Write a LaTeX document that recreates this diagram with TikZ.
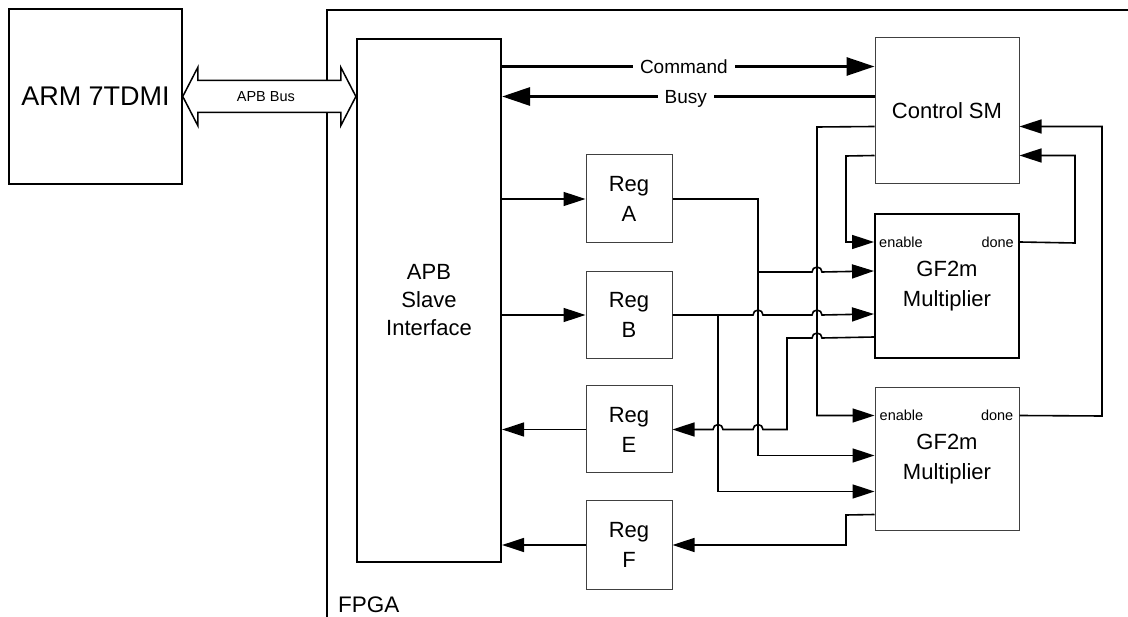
\documentclass[tikz,border=0pt]{standalone}
\usepackage{fontspec}
\setmainfont{Liberation Sans}
\usetikzlibrary{arrows.meta,calc}
\begin{document}
\begin{tikzpicture}[x=1pt,y=-1pt,
  box/.style={draw=black!75, line width=1pt, inner sep=0pt, align=center,
              font=\fontsize{22}{30}\selectfont},
  strongbox/.style={box, draw=black, line width=2pt},
  regbox/.style={box, minimum width=86pt, minimum height=87pt},
  gfbox/.style={minimum width=144pt, minimum height=144pt},
  wire/.style={line width=1.6pt, draw=black},
  arr/.style={wire, -{Triangle[length=22pt,width=14pt]}},
  bigarr/.style={line width=3pt, draw=black, -{Triangle[length=28pt,width=18pt]}},
  lbl/.style={fill=white, inner xsep=7pt, inner ysep=2pt, text depth=0pt,
              font=\fontsize{19}{22}\selectfont},
  port/.style={inner sep=0pt, font=\fontsize{14.5}{17}\selectfont},
  bus/.style={draw=black, line width=1.5pt, fill=white, line join=miter},
  frame/.style={draw=black, line width=2pt}
]
\useasboundingbox (0,0) rectangle (1128,617);

% FPGA frame
\draw[frame] (327,617) -- (327,10) -- (1128,10);
\node[anchor=base west, inner sep=0pt, font=\fontsize{22.5}{26}\selectfont] (fpga) at (338,612.3) {FPGA};

% blocks
\node[box, draw=black, line width=1.5pt, minimum width=173pt, minimum height=175pt,
      font=\fontsize{27}{32}\selectfont] (arm) at (95.5,96.5) {ARM 7TDMI};
\node[strongbox, line width=2.2pt, minimum width=144pt, minimum height=523pt,
      font=\fontsize{22}{28}\selectfont] (apb) at (429,300.5) {APB\\Slave\\Interface};
\node[box, minimum width=144pt, minimum height=146pt] (ctrl) at (947,111) {Control SM};
\node[strongbox, gfbox] (gfa) at (947,286) {GF2m\\Multiplier};
\node[box, gfbox, minimum height=143pt] (gfb) at (947,459.5) {GF2m\\Multiplier};
\node[regbox, minimum height=88pt] (rega) at (629,199) {Reg\\A};
\node[regbox] (regb) at (629,315) {Reg\\B};
\node[regbox] (rege) at (629,429.5) {Reg\\E};
\node[regbox, minimum height=88pt] (regf) at (629,545) {Reg\\F};

% APB bus
\coordinate (busL) at (arm.east);
\coordinate (busR) at (apb.west |- arm.east);
\draw[bus] (busL) -- ++(15,-29) -- ++(0,13) -- ($(busR)+(-15,-16)$) -- ++(0,-13)
  -- (busR) -- ++(-15,29) -- ++(0,-13) -- ($(busL)+(15,16)$) -- ++(0,13) -- cycle;
\node[port] (busl) at ($(busL)!0.48!(busR)$) {APB Bus};

% ports
\coordinate (cmdE) at ($(ctrl.north west)+(0,29)$);
\coordinate (busyE) at ($(ctrl.north west)+(0,59)$);
\coordinate (c1) at ($(ctrl.north west)+(0,89)$);
\coordinate (c2) at ($(ctrl.north west)+(0,118)$);
\coordinate (c1r) at ($(ctrl.north east)+(0,89)$);
\coordinate (c2r) at ($(ctrl.north east)+(0,118)$);
\coordinate (gfaE) at ($(gfa.north west)+(0,29)$);
\coordinate (gfaD) at ($(gfa.north east)+(0,29)$);
\coordinate (gfaA) at ($(gfa.north west)+(0,58)$);
\coordinate (gfaB) at ($(gfa.north west)+(0,101)$);
\coordinate (gfaO) at ($(gfa.north west)+(0,124)$);
\coordinate (gfbE) at ($(gfb.north west)+(0,28)$);
\coordinate (gfbD) at ($(gfb.north east)+(0,28)$);
\coordinate (gfbA) at ($(gfb.north west)+(0,68)$);
\coordinate (gfbB) at ($(gfb.north west)+(0,104)$);
\coordinate (gfbO) at ($(gfb.north west)+(0,127)$);

\node[port, anchor=west] (ena) at ($(gfaE)+(5,0)$) {enable};
\node[port, anchor=east] (dna) at ($(gfaD)+(-6,0)$) {done};
\node[port, anchor=west] (enb) at ($(gfbE)+(5,0)$) {enable};
\node[port, anchor=east] (dnb) at ($(gfbD)+(-6,0)$) {done};

% command / busy
\draw[bigarr] (apb.east |- cmdE) -- (cmdE) node[lbl, pos=0.488] {Command};
\draw[bigarr] (busyE) -- (apb.east |- busyE) node[lbl, pos=0.507] {Busy};

% APB <-> registers
\draw[arr] (apb.east |- rega.west) -- (rega.west);
\draw[arr] (apb.east |- regb.west) -- (regb.west);
\draw[arr] (rege.west) -- (apb.east |- rege.west);
\draw[arr] (regf.west) -- (apb.east |- regf.west);

% control SM wiring
\draw[arr] (c1) -- (817,127) |- (gfbE);
\draw[arr] (c2) -- (846,156) |- (gfaE);
\draw[arr] (gfaD) -- (1075,243) |- (c2r);
\draw[arr] (gfbD) -- (1102,416) |- (c1r);

% Reg A
\draw[arr] (rega.east) -- (758,199) |- (gfbA);
\draw[arr] (758,272) -- (812,272) arc[start angle=180,end angle=360,radius=5] -- (gfaA);
% Reg B
\draw[arr] (regb.east) -- (753,315) arc[start angle=180,end angle=360,radius=5]
  -- (812,315) arc[start angle=180,end angle=360,radius=5] -- (gfaB);
\draw[arr] (718,315) |- (gfbB);
% GF A output -> Reg E
\draw[arr] (gfaO) -- (822,338) arc[start angle=0,end angle=-180,radius=5]
  -- (787,338) -- (787,429.5) -- (763,429.5) arc[start angle=0,end angle=-180,radius=5]
  -- (723,429.5) arc[start angle=0,end angle=-180,radius=5] -- (rege.east);
% GF B output -> Reg F
\draw[arr] (gfbO) -- (846,515) |- (regf.east);
\end{tikzpicture}
\end{document}
